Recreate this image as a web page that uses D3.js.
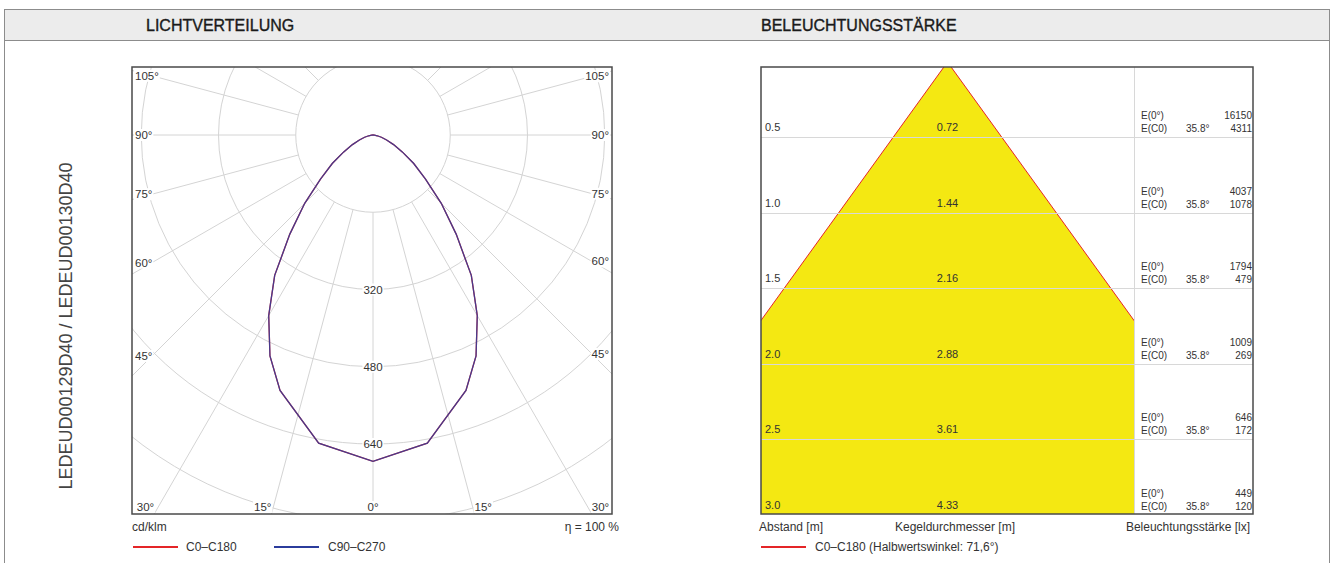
<!DOCTYPE html>
<html><head><meta charset="utf-8">
<script src="https://cdn.jsdelivr.net/npm/d3@7"></script>
<style>
body{margin:0;background:#fff;}
svg{display:block;}
text{font-family:"Liberation Sans",Arial,Helvetica,sans-serif;}
</style></head><body>
<svg id="c" width="1335" height="563"></svg>
<script>
// ---------------- DATA ----------------
const gammaAngles      = [0,10,20,25,30,35,40,45,50,55,60,65,70,75,80,85,90];
const intensityC0C180  = [676,648,563,505,432,355,268,200,142,103,70,47,30,18,9,3,0];
const intensityC90C270 = [676,648,563,505,432,355,268,200,142,103,70,47,30,18,9,3,0];
const polarRingValues  = [160,320,480,640,800,960,1120,1280];
const polarRingLabels  = [320,480,640];
const polarAngleLabels = [0,15,30,45,60,75,90,105];
const distances        = [0.5,1.0,1.5,2.0,2.5,3.0];
const distanceLabels   = ["0.5","1.0","1.5","2.0","2.5","3.0"];
const coneDiameters    = [0.72,1.44,2.16,2.88,3.61,4.33];
const coneDiameterLabels = ["0.72","1.44","2.16","2.88","3.61","4.33"];
const illumCenter      = [16150,4037,1794,1009,646,449];
const illumC0          = [4311,1078,479,269,172,120];
const halfAngleLabel   = "35.8°";
const legendPolar      = ["C0–C180","C90–C270"];
const legendCone       = "C0–C180 (Halbwertswinkel: 71,6°)";

// ---------------- LAYOUT ----------------
const svg = d3.select("#c");
const RED = "#e42528", BLUE = "#2b3c9c", YEL = "#f4e812";

// outer frame + header
svg.append("rect").attr("x",4.5).attr("y",9.5).attr("width",1325).attr("height",31)
  .attr("fill","#ececec");
svg.append("rect").attr("x",4.5).attr("y",9.5).attr("width",1325).attr("height",700)
  .attr("fill","none").attr("stroke","#8c8c8c").attr("stroke-width",1);
svg.append("line").attr("x1",4.5).attr("x2",1329.5).attr("y1",40.5).attr("y2",40.5)
  .attr("stroke","#8c8c8c");
const hdr = svg.append("g").attr("font-size",16).attr("fill","#1a1a1a")
  .attr("stroke","#1a1a1a").attr("stroke-width",0.35);
hdr.append("text").attr("x",146).attr("y",31).text("LICHTVERTEILUNG");
hdr.append("text").attr("x",761).attr("y",31).text("BELEUCHTUNGSSTÄRKE");

svg.append("text").attr("transform","translate(72,326) rotate(-90)")
  .attr("text-anchor","middle").attr("font-size",18).attr("fill","#444")
  .text("LEDEUD00129D40 / LEDEUD00130D40");

// ---------------- POLAR ----------------
const P = {L:132, R:612, T:67, B:514, cx:373, cy:135};
const rScale = d3.scaleLinear().domain([0,640]).range([0,309]);
const defs = svg.append("defs");
defs.append("clipPath").attr("id","pclip").append("rect")
  .attr("x",P.L).attr("y",P.T).attr("width",P.R-P.L).attr("height",P.B-P.T);
const pg = svg.append("g").attr("clip-path","url(#pclip)");
const grid = pg.append("g").attr("stroke","#d4d4d4").attr("fill","none").attr("stroke-width",1);
polarRingValues.forEach(v=>{
  grid.append("circle").attr("cx",P.cx).attr("cy",P.cy).attr("r",rScale(v));
});
const rInner = rScale(polarRingValues[0]);
const rOuter = rScale(polarRingValues[polarRingValues.length-1]);
d3.range(0,360,15).forEach(a=>{
  const t = a*Math.PI/180;
  const dx = Math.sin(t), dy = Math.cos(t);
  grid.append("line")
    .attr("x1",P.cx+dx*rInner).attr("y1",P.cy+dy*rInner)
    .attr("x2",P.cx+dx*rOuter).attr("y2",P.cy+dy*rOuter);
});

// curve
function polarPoints(vals){
  const pts=[];
  for(let i=gammaAngles.length-1;i>=0;i--) pts.push({a:Math.PI+gammaAngles[i]*Math.PI/180, v:vals[i]});
  for(let i=1;i<gammaAngles.length;i++) pts.push({a:Math.PI-gammaAngles[i]*Math.PI/180, v:vals[i]});
  return pts;
}
const radial = d3.lineRadial().angle(d=>d.a).radius(d=>rScale(d.v)).curve(d3.curveLinear);
const cg = pg.append("g").attr("transform",`translate(${P.cx},${P.cy})`);
cg.append("path").attr("d",radial(polarPoints(intensityC0C180)))
  .attr("fill","none").attr("stroke",RED).attr("stroke-width",1.3);
cg.append("path").attr("d",radial(polarPoints(intensityC90C270)))
  .attr("fill","none").attr("stroke",BLUE).attr("stroke-width",1.3).attr("stroke-opacity",0.85);

// labels with white background
const lab = svg.append("g").attr("font-size",11.5).attr("fill","#333");
function bgText(x,y,txt,anchor){
  const g = lab.append("g");
  const t = g.append("text").attr("x",x).attr("y",y).attr("text-anchor",anchor)
    .attr("dominant-baseline","central").text(txt);
  const bb = t.node().getBBox();
  g.insert("rect","text").attr("x",bb.x-1).attr("y",bb.y).attr("width",bb.width+2)
    .attr("height",bb.height).attr("fill","#fff");
}
polarRingLabels.forEach(v=> bgText(P.cx, P.cy+rScale(v), String(v), "middle"));
const bottomLimit = Math.atan((P.cx-P.L)/(P.B-P.cy))*180/Math.PI;
polarAngleLabels.forEach(deg=>{
  const t = deg*Math.PI/180;
  [-1,1].forEach(s=>{
    if(deg===0 && s===1) return;
    const txt = deg+"°";
    if(deg < bottomLimit){
      const hx = P.cx + s*Math.tan(t)*(P.B-P.cy);
      const anchor = deg===0 ? "middle" : (s<0 ? "end" : "start");
      bgText(hx, P.B-7, txt, anchor);
    } else {
      const edge = s<0 ? P.L : P.R;
      const half = Math.abs(edge-P.cx) - 20;
      const y = P.cy + half*Math.cos(t)/Math.sin(t);
      bgText(s<0 ? P.L+3 : P.R-3, y, txt, s<0 ? "start" : "end");
    }
  });
});
svg.append("rect").attr("x",P.L).attr("y",P.T).attr("width",P.R-P.L).attr("height",P.B-P.T)
  .attr("fill","none").attr("stroke","#4a4a4a").attr("stroke-width",1.5);

const foot = svg.append("g").attr("font-size",12).attr("fill","#333");
foot.append("text").attr("x",P.L).attr("y",531).text("cd/klm");
foot.append("text").attr("x",619).attr("y",531).attr("text-anchor","end").text("η = 100 %");
foot.append("line").attr("x1",133).attr("x2",178).attr("y1",547).attr("y2",547).attr("stroke",RED).attr("stroke-width",2);
foot.append("text").attr("x",186).attr("y",551).text(legendPolar[0]);
foot.append("line").attr("x1",274).attr("x2",319).attr("y1",547).attr("y2",547).attr("stroke",BLUE).attr("stroke-width",2);
foot.append("text").attr("x",328).attr("y",551).text(legendPolar[1]);

// ---------------- CONE ----------------
const C = {L:761, D:1134, R:1253, T:67, B:514};
const yScale = d3.scaleLinear().domain([0,3]).range([62,514.5]);
const pxPerM = yScale(1)-yScale(0);
const cxc = (C.L+C.D)/2;
const xScale = d3.scaleLinear().domain([-1,1]).range([cxc-pxPerM, cxc+pxPerM]);
defs.append("clipPath").attr("id","cclip").append("rect")
  .attr("x",C.L).attr("y",C.T).attr("width",C.D-C.L).attr("height",C.B-C.T);
const cgc = svg.append("g").attr("clip-path","url(#cclip)");
const lastD = distances[distances.length-1];
const halfW = coneDiameters[coneDiameters.length-1]/2;
const ext = (lastD+1)/lastD;
const tri = [[0,0],[-halfW*ext,lastD+1],[halfW*ext,lastD+1]];
cgc.append("path").attr("d", d3.line().x(d=>xScale(d[0])).y(d=>yScale(d[1]))(tri) + "Z")
  .attr("fill",YEL);
[-1,1].forEach(s=>{
  cgc.append("line").attr("x1",xScale(0)).attr("y1",yScale(0))
    .attr("x2",xScale(s*halfW)).attr("y2",yScale(lastD))
    .attr("stroke",RED).attr("stroke-width",1);
});
// grid lines
const gl = svg.append("g").attr("stroke","#d8d8d8").attr("stroke-width",1);
distances.slice(0,-1).forEach(d=>{
  gl.append("line").attr("x1",C.L).attr("x2",C.R).attr("y1",Math.round(yScale(d))+0.5).attr("y2",Math.round(yScale(d))+0.5);
});
gl.append("line").attr("x1",C.D+0.5).attr("x2",C.D+0.5).attr("y1",C.T).attr("y2",C.B);
svg.append("rect").attr("x",C.L).attr("y",C.T).attr("width",C.R-C.L).attr("height",C.B-C.T)
  .attr("fill","none").attr("stroke","#4a4a4a").attr("stroke-width",1.5);

const ct = svg.append("g").attr("fill","#333");
distances.forEach((d,i)=>{
  const y = yScale(d);
  ct.append("text").attr("x",C.L+4).attr("y",y-6).attr("font-size",11).text(distanceLabels[i]);
  ct.append("text").attr("x",xScale(0)).attr("y",y-6).attr("font-size",11).attr("text-anchor","middle").text(coneDiameterLabels[i]);
  ct.append("text").attr("x",C.D+7).attr("y",y-18).attr("font-size",10).text("E(0°)");
  ct.append("text").attr("x",C.D+7).attr("y",y-5).attr("font-size",10).text("E(C0)");
  ct.append("text").attr("x",C.D+52).attr("y",y-5).attr("font-size",10).text(halfAngleLabel);
  ct.append("text").attr("x",C.R-1).attr("y",y-18).attr("font-size",10).attr("text-anchor","end").text(illumCenter[i]);
  ct.append("text").attr("x",C.R-1).attr("y",y-5).attr("font-size",10).attr("text-anchor","end").text(illumC0[i]);
});

const foot2 = svg.append("g").attr("font-size",12).attr("fill","#333");
foot2.append("text").attr("x",C.L-2).attr("y",531).text("Abstand [m]");
foot2.append("text").attr("x",955).attr("y",531).attr("text-anchor","middle").text("Kegeldurchmesser [m]");
foot2.append("text").attr("x",1250).attr("y",531).attr("text-anchor","end").text("Beleuchtungsstärke [lx]");
foot2.append("line").attr("x1",761).attr("x2",806).attr("y1",547).attr("y2",547).attr("stroke",RED).attr("stroke-width",2);
foot2.append("text").attr("x",815).attr("y",551).text(legendCone);
</script>
</body></html>
